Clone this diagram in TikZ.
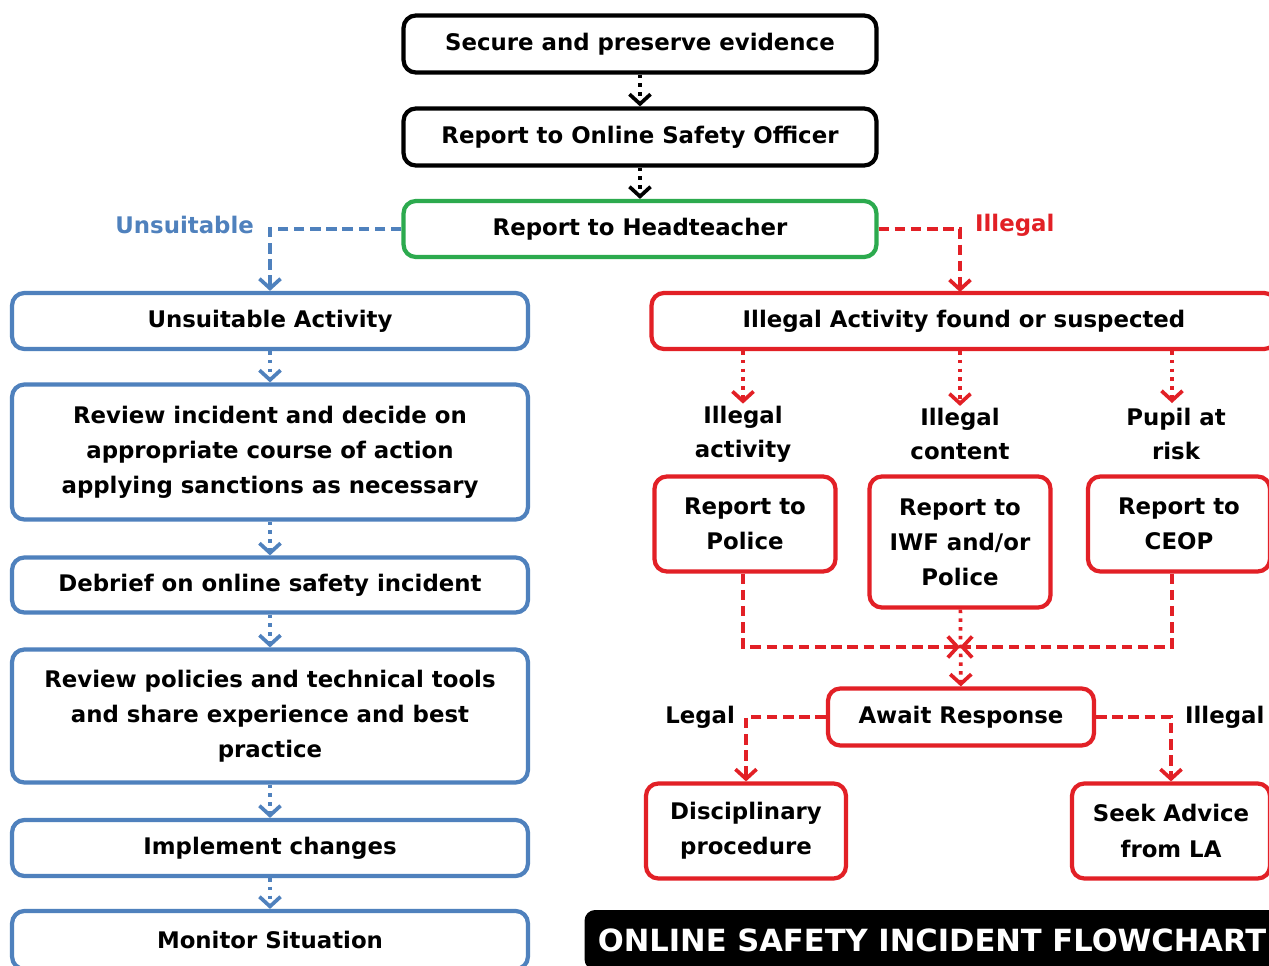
\documentclass[tikz,border=0pt]{standalone}
\usepackage{fontspec}
\setmainfont{DejaVu Sans}
\usepackage{tikz}
\usetikzlibrary{arrows.meta}

\definecolor{unsblue}{RGB}{79,129,189}
\definecolor{illred}{RGB}{226,32,38}
\definecolor{headgreen}{RGB}{44,170,78}

\begin{document}
\begin{tikzpicture}[x=0.02cm, y=-0.02cm,
    >={Straight Barb[length=5.5pt,width=12pt]},
    box/.style={draw, rectangle, rounded corners=7pt, line width=2.4pt, fill=white, align=center, inner sep=2pt, font=\fontsize{13}{20}\selectfont\bfseries},
    bluebox/.style={box, draw=unsblue, minimum width=10.32cm},
    redbox/.style={box, draw=illred},
    flow/.style={->, line width=2.1pt, dash pattern=on 2pt off 3pt},
    branch/.style={->, line width=2.1pt, dash pattern=on 6pt off 3.2pt},
    lbl/.style={align=center, inner sep=1pt, font=\fontsize{13}{19.5}\selectfont\bfseries}
]
    \useasboundingbox[fill=white] (0,0) rectangle (1269,965);

    % top of the chart
    \node[box, minimum width=9.46cm, minimum height=1.14cm] (secure) at (640,44) {Secure and preserve evidence};
    \node[box, minimum width=9.46cm, minimum height=1.14cm] (officer) at (640,137) {Report to Online Safety Officer};
    \node[box, draw=headgreen, minimum width=9.46cm, minimum height=1.12cm] (head) at (640,229) {Report to Headteacher};

    \draw[flow] (secure) -- (officer);
    \draw[flow] (officer) -- (head);

    % unsuitable side
    \node[bluebox, minimum height=1.12cm] (unsuit) at (270,321) {Unsuitable Activity};
    \node[bluebox, minimum height=2.7cm] (review) at (270,452) {Review incident and decide on\\appropriate course of action\\applying sanctions as necessary};
    \node[bluebox, minimum height=1.1cm] (debrief) at (270,585) {Debrief on online safety incident};
    \node[bluebox, minimum height=2.66cm] (policies) at (270,716) {Review policies and technical tools\\and share experience and best\\practice};
    \node[bluebox, minimum height=1.12cm] (implement) at (270,848) {Implement changes};
    \node[bluebox, minimum height=1.16cm] (monitor) at (270,940) {Monitor Situation};

    \node[lbl, text=unsblue, anchor=east] (unsuitlbl) at (256,225) {Unsuitable};
    \draw[branch, unsblue] (head.west) -| (unsuit);
    \draw[flow, unsblue] (unsuit) -- (review);
    \draw[flow, unsblue] (review) -- (debrief);
    \draw[flow, unsblue] (debrief) -- (policies);
    \draw[flow, unsblue] (policies) -- (implement);
    \draw[flow, unsblue] (implement) -- (monitor);

    % illegal side
    \node[redbox, minimum width=12.5cm, minimum height=1.12cm] (illegal) at (964,321) {Illegal Activity found or suspected};
    \node[lbl, text=illred, anchor=west] (illegallbl) at (973,225) {Illegal};
    \draw[branch, illred] (head.east) -| (960,292);

    \node[lbl] (actlbl) at (743,434) {Illegal\\activity};
    \node[lbl] (contlbl) at (960,434) {Illegal\\content};
    \node[lbl] (risklbl) at (1176,434) {Pupil at\\risk};
    \draw[flow, illred] (illegal.south -| actlbl) -- (actlbl);
    \draw[flow, illred] (illegal.south -| contlbl) -- (contlbl);
    \draw[flow, illred] (illegal.south -| 1172,0) -- (1172,403);

    \node[redbox, minimum width=3.62cm, minimum height=1.9cm] (police) at (745,524) {Report to\\Police};
    \node[redbox, minimum width=3.62cm, minimum height=2.62cm] (iwf) at (960,542) {Report to\\IWF and/or\\Police};
    \node[redbox, minimum width=3.64cm, minimum height=1.9cm] (ceop) at (1179,524) {Report to\\CEOP};

    \node[redbox, minimum width=5.32cm, minimum height=1.14cm] (await) at (961,717) {Await Response};
    \coordinate (merge) at (960,647);
    \draw[branch, illred] (police.south -| 743,0) |- (merge);
    \draw[branch, illred] (ceop.south -| 1172,0) |- (merge);
    \draw[flow, illred] (iwf) -- (await);

    \node[redbox, minimum width=4cm, minimum height=1.9cm] (disc) at (746,831) {Disciplinary\\procedure};
    \node[redbox, minimum width=3.96cm, minimum height=1.9cm] (seek) at (1171,831) {Seek Advice\\from LA};

    \node[lbl, anchor=east] (legallbl) at (737,717) {Legal};
    \node[lbl, anchor=west] (illegallbl2) at (1183,717) {Illegal};
    \draw[branch, illred] (await.west) -| (disc);
    \draw[branch, illred] (await.east) -| (seek);

    % title bar
    \node[fill=black, rounded corners=6pt, text=white, minimum width=13.9cm, minimum height=1.2cm, font=\fontsize{17.4}{17.4}\selectfont\bfseries] (title) at (932,940) {ONLINE SAFETY INCIDENT FLOWCHART};
\end{tikzpicture}
\end{document}
